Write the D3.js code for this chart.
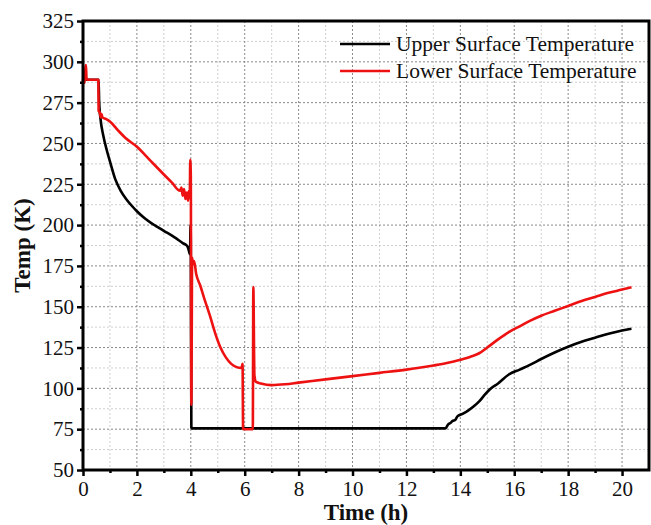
<!DOCTYPE html>
<html>
<head>
<meta charset="utf-8">
<script src="https://cdn.jsdelivr.net/npm/d3@7"></script>
<style>
  body { margin: 0; background: #fff; }
  svg text { font-family: "Liberation Serif", "DejaVu Serif", serif !important; }
</style>
</head>
<body>
<div id="canvas"></div>
<script>
"use strict"

// data (time in h, temperature in K)
let upperTime = [0, 0.58, 0.6, 0.65, 0.75, 0.88, 1.0, 1.2, 1.4, 1.6, 1.8, 2.0, 2.3, 2.6, 3.0, 3.4, 3.7, 3.85, 3.9, 3.95, 3.97, 3.99, 4.0, 4.02, 4.05,
                 13.45, 13.55, 13.65, 13.7, 13.8, 13.9, 14.1, 14.3, 14.5, 14.7, 14.9, 15.1, 15.4, 15.8, 16.2, 16.6, 17.0, 17.5, 18.0, 18.5, 19.0, 19.5, 20.0, 20.35]
let upperTemp = [289, 289, 275, 265, 255, 246, 239, 228, 221, 216, 212, 208.5, 204, 200.5, 196.5, 192.5, 189, 187.5, 186, 183, 182, 200, 190, 76, 75.5,
                 75.5, 78, 79, 80, 80.5, 83, 84.5, 86.5, 89, 92, 96, 99.5, 103, 108.5, 111.5, 114.5, 118, 122, 125.5, 128.5, 131, 133.5, 135.5, 136.5]

let lowerTime = [0, 0.03, 0.06, 0.09, 0.11, 0.13, 0.16, 0.57, 0.58, 0.62, 0.66, 0.69, 0.72, 0.85, 1.0, 1.3, 1.6, 2.0, 2.5, 3.0, 3.3, 3.6, 3.65, 3.7, 3.75, 3.8, 3.85, 3.9, 3.93, 3.96, 3.98, 4.0, 4.02,
                 4.05, 4.08, 4.12, 4.2, 4.35, 4.5, 4.7, 4.9, 5.1, 5.3, 5.5, 5.7, 5.88, 5.92, 5.94, 6.3, 6.32, 6.36, 6.42, 6.6, 7.0, 7.5, 8.0, 9.0, 10.0, 11.0, 12.0, 13.0, 13.5,
                 14.0, 14.4, 14.7, 15.0, 15.4, 15.8, 16.2, 16.6, 17.0, 17.5, 18.0, 18.5, 19.0, 19.5, 20.0, 20.35]
let lowerTemp = [288, 292, 287, 296, 298, 290, 289, 289, 270, 269, 266, 268, 266, 265, 263.5, 258, 253, 248, 239.5, 231, 226, 221, 223, 218, 222, 216, 220, 215, 221, 217, 240, 230, 90,
                 180, 176, 178, 170, 163, 155, 145, 134, 125, 119, 115, 113, 112.5, 115, 75, 75, 162, 108, 104, 103, 102, 102.5, 103.5, 105.5, 107.5, 109.5, 111.5, 114, 115.5,
                 117.5, 119.5, 121.5, 125, 130, 134.5, 138, 141.5, 144.5, 147.5, 150.5, 153.5, 156, 158.5, 160.5, 162]

let xTicks = [0, 2, 4, 6, 8, 10, 12, 14, 16, 18, 20]
let yTicks = [50, 75, 100, 125, 150, 175, 200, 225, 250, 275, 300, 325]
let seriesNames = ["Upper Surface Temperature", "Lower Surface Temperature"]
let seriesColors = ["#000000", "#ee1111"]

let width = 651
let height = 525
let plotLeft = 83, plotRight = 649, plotTop = 21, plotBottom = 470
let serif = "'Liberation Serif', 'DejaVu Serif', serif"

let drawing = d3.select("#canvas")
    .append("svg")
    .attr("width", width)
    .attr("height", height)

let x = d3.scaleLinear().domain([0, 21]).range([plotLeft, plotRight])
let y = d3.scaleLinear().domain([50, 325]).range([plotBottom, plotTop])

/* grid, minor first then major */
let xMinor = d3.range(1, 21, 2)
let yMinor = d3.range(62.5, 325, 25)

let grid = drawing.append("g")
grid.selectAll(".vminor").data(xMinor).enter().append("line")
    .attr("x1", d => x(d)).attr("x2", d => x(d))
    .attr("y1", plotTop).attr("y2", plotBottom)
    .attr("stroke", "#cfcfcf").attr("stroke-dasharray", "2,2")
grid.selectAll(".hminor").data(yMinor).enter().append("line")
    .attr("x1", plotLeft).attr("x2", plotRight)
    .attr("y1", d => y(d)).attr("y2", d => y(d))
    .attr("stroke", "#cfcfcf").attr("stroke-dasharray", "2,2")
grid.selectAll(".vmajor").data(xTicks.slice(1)).enter().append("line")
    .attr("x1", d => x(d)).attr("x2", d => x(d))
    .attr("y1", plotTop).attr("y2", plotBottom)
    .attr("stroke", "#8a8a8a").attr("stroke-dasharray", "2,2")
grid.selectAll(".hmajor").data(yTicks.slice(1, -1)).enter().append("line")
    .attr("x1", plotLeft).attr("x2", plotRight)
    .attr("y1", d => y(d)).attr("y2", d => y(d))
    .attr("stroke", "#8a8a8a").attr("stroke-dasharray", "2,2")

/* the two curves */
let line = d3.line()
    .x(d => x(d[0]))
    .y(d => y(d[1]))
    .curve(d3.curveMonotoneX)

let upperData = upperTime.map((t, i) => [t, upperTemp[i]])
let lowerData = lowerTime.map((t, i) => [t, lowerTemp[i]])

drawing.append("path")
    .datum(upperData)
    .attr("d", line)
    .attr("fill", "none")
    .attr("stroke", seriesColors[0])
    .attr("stroke-width", 2.6)
    .attr("stroke-linejoin", "round")

drawing.append("path")
    .datum(lowerData)
    .attr("d", line)
    .attr("fill", "none")
    .attr("stroke", seriesColors[1])
    .attr("stroke-width", 2.6)
    .attr("stroke-linejoin", "round")

/* axes */
let xAxis = drawing.append("g")
    .attr("transform", "translate(0," + plotBottom + ")")
    .call(d3.axisBottom(x).tickValues(xTicks).tickSize(6).tickPadding(4))
let xAxisMinor = drawing.append("g")
    .attr("transform", "translate(0," + plotBottom + ")")
    .call(d3.axisBottom(x).tickValues(xMinor).tickSize(3).tickFormat(""))

let yAxis = drawing.append("g")
    .attr("transform", "translate(" + plotLeft + ",0)")
    .call(d3.axisLeft(y).tickValues(yTicks).tickSize(6).tickPadding(3))
let yAxisMinor = drawing.append("g")
    .attr("transform", "translate(" + plotLeft + ",0)")
    .call(d3.axisLeft(y).tickValues(yMinor).tickSize(3).tickFormat(""))

for (let a of [xAxis, xAxisMinor, yAxis, yAxisMinor]) {
    a.attr("font-family", serif)
    a.select(".domain").remove()
    a.selectAll("line").attr("stroke", "#000").attr("stroke-width", 2.5)
    a.selectAll("text")
        .attr("fill", "#111")
        .attr("font-family", serif)
        .attr("font-size", 21)
}
xAxis.selectAll("text").attr("dy", "0.78em")

/* frame */
drawing.append("rect")
    .attr("x", plotLeft)
    .attr("y", plotTop)
    .attr("width", plotRight - plotLeft)
    .attr("height", plotBottom - plotTop)
    .attr("fill", "none")
    .attr("stroke", "#000")
    .attr("stroke-width", 3)

/* axis titles */
drawing.append("text")
    .attr("x", 366)
    .attr("y", 520)
    .attr("text-anchor", "middle")
    .attr("font-family", serif)
    .attr("font-weight", "bold")
    .attr("font-size", 23)
    .attr("fill", "#111")
    .text("Time (h)")

drawing.append("text")
    .attr("transform", "translate(30," + ((plotTop + plotBottom) / 2) + ") rotate(-90)")
    .attr("text-anchor", "middle")
    .attr("font-family", serif)
    .attr("font-weight", "bold")
    .attr("font-size", 23)
    .attr("fill", "#111")
    .text("Temp (K)")

/* legend */
let legend = drawing.append("g")
seriesNames.forEach((name, i) => {
    let ly = 44 + i * 27
    legend.append("line")
        .attr("x1", 340).attr("x2", 390)
        .attr("y1", ly).attr("y2", ly)
        .attr("stroke", seriesColors[i])
        .attr("stroke-width", 2.6)
    legend.append("text")
        .attr("x", 396)
        .attr("y", ly + 7)
        .attr("font-family", serif)
        .attr("font-size", 21.5)
        .attr("fill", "#111")
        .text(name)
})
</script>
</body>
</html>
